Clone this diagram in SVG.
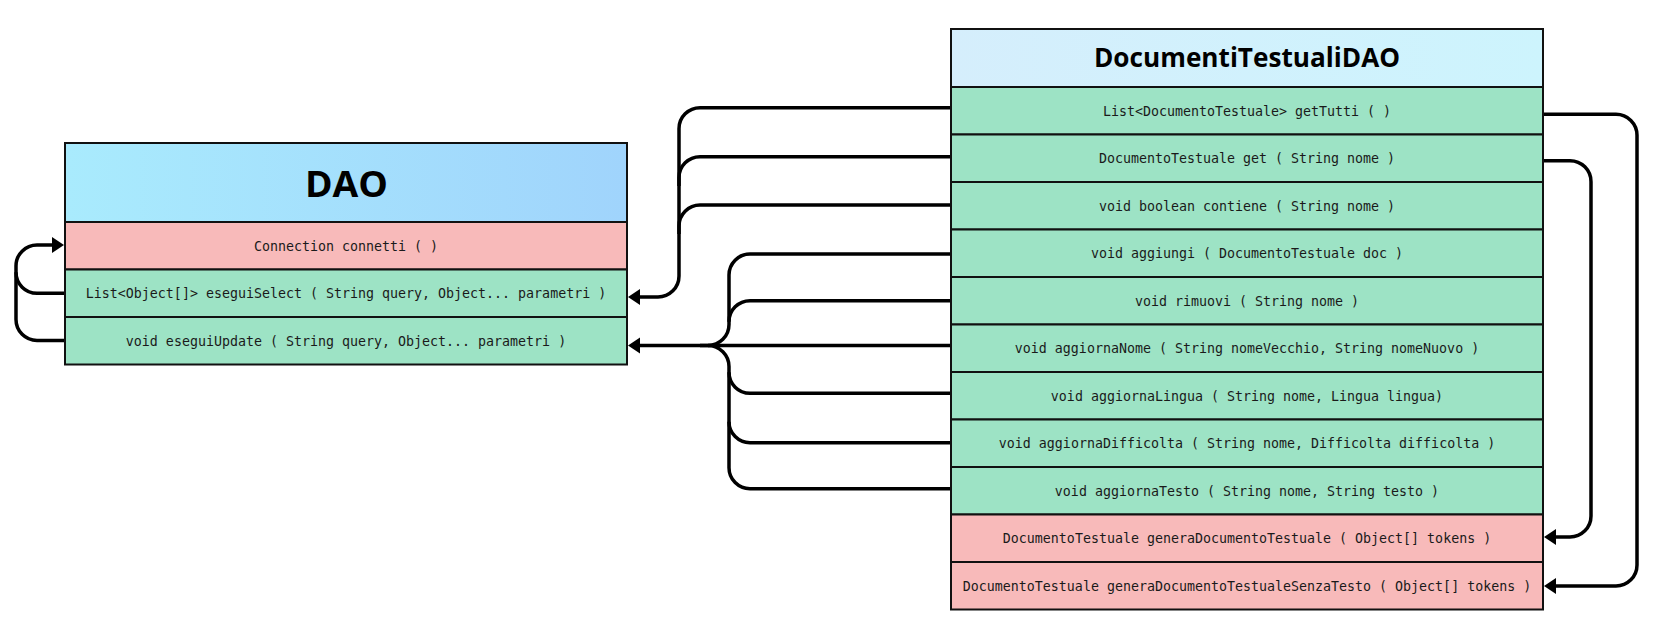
<svg xmlns="http://www.w3.org/2000/svg" width="1665" height="635" viewBox="0 0 1665 635">
<defs>
<linearGradient id="gDao" x1="0" y1="0" x2="1" y2="0">
<stop offset="0" stop-color="#a9ebfd"/><stop offset="1" stop-color="#a0d4fc"/>
</linearGradient>
<linearGradient id="gDoc" x1="0" y1="0" x2="1" y2="0">
<stop offset="0" stop-color="#d5eefc"/><stop offset="1" stop-color="#cdf4fd"/>
</linearGradient>
<marker id="arr" markerUnits="userSpaceOnUse" markerWidth="14" markerHeight="18" viewBox="0 -9 14 18" refX="0" refY="0" orient="auto" overflow="visible">
<path d="M0,-8 L12,0 L0,8 Z" fill="#000"/>
</marker>
<style>
.row{stroke:#111;stroke-width:2}
.g{fill:#9de3c5}
.p{fill:#f8baba}
.m{font-family:"DejaVu Sans Mono","Liberation Mono",monospace;font-size:13.3px;fill:#1a1a1a;text-anchor:middle}
.t{font-family:"Open Sans","Noto Sans",sans-serif;font-weight:bold;fill:#000;text-anchor:middle}
.c{fill:none;stroke:#000;stroke-width:3.5}
</style>
</defs>
<rect width="1665" height="635" fill="#fff"/>
<g id="connectors">
<path class="c" d="M951 107.7 H700 A21 21 0 0 0 679 128.7 V276 A21 21 0 0 1 658 297 H640" marker-end="url(#arr)"/>
<path class="c" d="M951 156.7 H700 A21 21 0 0 0 679 177.7 V186"/>
<path class="c" d="M951 205 H700 A21 21 0 0 0 679 226 V234"/>
<path class="c" d="M951 254 H750 A21 21 0 0 0 729 275 V324.5 A21 21 0 0 1 708 345.5 H640" marker-end="url(#arr)"/>
<path class="c" d="M951 300.7 H750 A21 21 0 0 0 729 321.7"/>
<path class="c" d="M951 345.5 H700"/>
<path class="c" d="M951 488.7 H750 A21 21 0 0 1 729 467.7 V366.5 A21 21 0 0 0 708 345.5"/>
<path class="c" d="M951 393.3 H750 A21 21 0 0 1 729 372.3"/>
<path class="c" d="M951 442.7 H750 A21 21 0 0 1 729 421.7"/>
<path class="c" d="M1543 114.3 H1616 A21 21 0 0 1 1637 135.3 V565 A21 21 0 0 1 1616 586 H1556" marker-end="url(#arr)"/>
<path class="c" d="M1543 160.7 H1570 A21 21 0 0 1 1591 181.7 V516 A21 21 0 0 1 1570 537 H1556" marker-end="url(#arr)"/>
<path class="c" d="M65 340.5 H37 A21 21 0 0 1 16 319.5 V266 A21 21 0 0 1 37 245 H52" marker-end="url(#arr)"/>
<path class="c" d="M65 293.3 H37 A21 21 0 0 1 16 272.3"/>
</g>
<g id="DAO">
<rect class="row" x="65" y="143" width="562" height="79" fill="url(#gDao)"/>
<text class="t" x="346.5" y="197.3" font-size="36" textLength="83" lengthAdjust="spacingAndGlyphs">DAO</text>
<rect class="row p" x="65" y="222" width="562" height="47.5"/>
<text class="m" x="346" y="250.7">Connection connetti ( )</text>
<rect class="row g" x="65" y="269.5" width="562" height="47.5"/>
<text class="m" x="346" y="298.2">List&lt;Object[]&gt; eseguiSelect ( String query, Object... parametri )</text>
<rect class="row g" x="65" y="317" width="562" height="47.5"/>
<text class="m" x="346" y="345.7">void eseguiUpdate ( String query, Object... parametri )</text>
</g>
<g id="DocumentiTestualiDAO">
<rect class="row" x="951" y="29" width="592" height="58" fill="url(#gDoc)"/>
<text class="t" x="1247" y="67" font-size="26" textLength="306" lengthAdjust="spacingAndGlyphs">DocumentiTestualiDAO</text>
<rect class="row g" x="951" y="87" width="592" height="47.5"/>
<text class="m" x="1247" y="115.7">List&lt;DocumentoTestuale&gt; getTutti ( )</text>
<rect class="row g" x="951" y="134.5" width="592" height="47.5"/>
<text class="m" x="1247" y="163.2">DocumentoTestuale get ( String nome )</text>
<rect class="row g" x="951" y="182" width="592" height="47.5"/>
<text class="m" x="1247" y="210.7">void boolean contiene ( String nome )</text>
<rect class="row g" x="951" y="229.5" width="592" height="47.5"/>
<text class="m" x="1247" y="258.2">void aggiungi ( DocumentoTestuale doc )</text>
<rect class="row g" x="951" y="277" width="592" height="47.5"/>
<text class="m" x="1247" y="305.7">void rimuovi ( String nome )</text>
<rect class="row g" x="951" y="324.5" width="592" height="47.5"/>
<text class="m" x="1247" y="353.2">void aggiornaNome ( String nomeVecchio, String nomeNuovo )</text>
<rect class="row g" x="951" y="372" width="592" height="47.5"/>
<text class="m" x="1247" y="400.7">void aggiornaLingua ( String nome, Lingua lingua)</text>
<rect class="row g" x="951" y="419.5" width="592" height="47.5"/>
<text class="m" x="1247" y="448.2">void aggiornaDifficolta ( String nome, Difficolta difficolta )</text>
<rect class="row g" x="951" y="467" width="592" height="47.5"/>
<text class="m" x="1247" y="495.7">void aggiornaTesto ( String nome, String testo )</text>
<rect class="row p" x="951" y="514.5" width="592" height="47.5"/>
<text class="m" x="1247" y="543.2">DocumentoTestuale generaDocumentoTestuale ( Object[] tokens )</text>
<rect class="row p" x="951" y="562" width="592" height="47.5"/>
<text class="m" x="1247" y="590.7">DocumentoTestuale generaDocumentoTestualeSenzaTesto ( Object[] tokens )</text>
</g>
</svg>
